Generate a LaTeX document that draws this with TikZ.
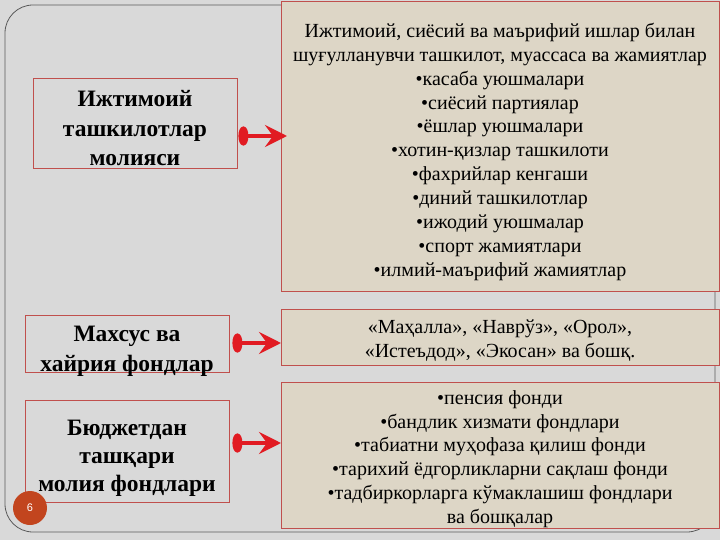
\documentclass[tikz,border=0pt]{standalone}
\usepackage{fontspec}
\setmainfont{Liberation Serif}
\setsansfont{Liberation Sans}
\usetikzlibrary{arrows.meta}

\definecolor{slidegrey}{HTML}{D9D9D9}
\definecolor{framegrey}{HTML}{5A5A5A}
\definecolor{boxred}{HTML}{C0504D}
\definecolor{paper}{HTML}{DDD6C6}
\definecolor{arrowred}{HTML}{E11B22}
\definecolor{pagered}{HTML}{C2451E}

\newcommand{\padtop}[1]{\rule{0pt}{#1}}
\setlength{\lineskiplimit}{-20pt}

\tikzset{
  leftbox/.style={draw=boxred, line width=0.8pt, fill=slidegrey, inner sep=0pt,
    align=center, font=\fontsize{23.5}{29.5}\selectfont\bfseries},
  infobox/.style={draw=boxred, line width=0.8pt, fill=paper, inner sep=0pt,
    minimum width=438pt, align=center, font=\fontsize{20}{23.9}\selectfont},
  linkarrow/.style={draw=arrowred, line width=3.5pt,
    {Ellipse[length=10pt,width=19pt]}-{Stealth[length=22pt,width=22pt,inset=8pt]}}
}

\begin{document}
\begin{tikzpicture}[x=1pt,y=-1pt]
  \useasboundingbox[fill=slidegrey] (0,0) rectangle (720,540);
  \draw[framegrey, line width=0.8pt, rounded corners=28pt] (5,5) rectangle (715,532);

  % left column
  \node[leftbox, minimum width=204pt, minimum height=90pt] (l1) at (135,123)
    {\padtop{27pt}Ижтимоий\\ ташкилотлар\\ молияси};
  \node[leftbox, minimum width=204pt, minimum height=57pt] (l2) at (127,343.5)
    {\padtop{26pt}Махсус ва\\ \smash{хайрия фондлар}};
  \node[leftbox, minimum width=204pt, minimum height=102pt,
    font=\fontsize{23.5}{28}\selectfont\bfseries] (l3) at (127,451)
    {\padtop{30pt}Бюджетдан\\ ташқари\\ молия фондлари};

  % right column
  \node[infobox, minimum height=290pt] (r1) at (500,146)
    {\padtop{26pt}Ижтимоий, сиёсий ва маърифий ишлар билан\\
     шуғулланувчи ташкилот, муассаса ва жамиятлар\\
     •касаба уюшмалари\\
     •сиёсий партиялар\\
     •ёшлар уюшмалари\\
     •хотин-қизлар ташкилоти\\
     •фахрийлар кенгаши\\
     •диний ташкилотлар\\
     •ижодий уюшмалар\\
     •спорт жамиятлари\\
     •илмий-маърифий жамиятлар};
  \node[infobox, minimum height=56pt] (r2) at (500,337)
    {\padtop{21pt}«Маҳалла», «Наврўз», «Орол»,\\
     «Истеъдод», «Экосан» ва бошқ.};
  \node[infobox, minimum height=146pt] (r3) at (500,455)
    {\padtop{22pt}•пенсия фонди\\
     •бандлик хизмати фондлари\\
     •табиатни муҳофаза қилиш фонди\\
     •тарихий ёдгорликларни сақлаш фонди\\
     •тадбиркорларга кўмаклашиш фондлари\\
     ва бошқалар};

  % arrows
  \coordinate (t1) at (287,136);
  \coordinate (t2) at (281,343);
  \coordinate (t3) at (281,443);
  \draw[linkarrow] ([xshift=1pt]l1.east |- t1) -- (t1);
  \draw[linkarrow] ([xshift=3pt]l2.east |- t2) -- (t2);
  \draw[linkarrow] ([xshift=3pt]l3.east |- t3) -- (t3);

  % page number
  \node[circle, fill=pagered, minimum size=34pt, inner sep=0pt, text=white,
    font=\sffamily\fontsize{11}{11}\selectfont] (pg) at (30,508) {6};
\end{tikzpicture}
\end{document}
